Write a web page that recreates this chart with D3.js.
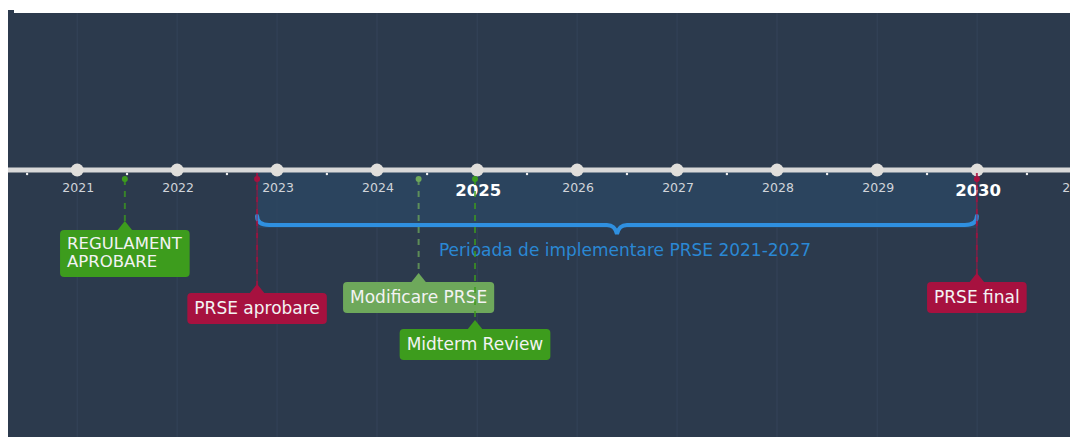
<!DOCTYPE html>
<html>
<head>
<meta charset="utf-8">
<script src="https://cdn.jsdelivr.net/npm/d3@7"></script>
<style>
  html, body { margin: 0; padding: 0; background: #ffffff; }
  svg { display: block; }
  text { font-family: "DejaVu Sans", sans-serif; }
</style>
</head>
<body>
<svg id="chart" width="1070" height="437"></svg>
<script>
// ---------- DATA ----------
const years = [2021, 2022, 2023, 2024, 2025, 2026, 2027, 2028, 2029, 2030, 2031];
const highlightYears = [2025, 2030];
const eventNames = ["REGULAMENT\nAPROBARE", "PRSE aprobare", "Modificare PRSE", "Midterm Review", "PRSE final"];
const eventDates = ["2021-06-24", "2022-10-20", "2024-06-01", "2024-12-24", "2029-12-31"];
const eventKinds = ["green", "crimson", "lightgreen", "green", "crimson"];
const periodLabel = "Perioada de implementare PRSE 2021-2027";
const periodStart = "2022-10-20";
const periodEnd = "2029-12-31";

// ---------- STYLE / LAYOUT ----------
const kindColor = { green: "#3d9c1d", lightgreen: "#6ea85b", crimson: "#a7113f" };
const eventRowTop = [230, 293, 282, 329, 282]; // box tops per event (layout)
const W = 1070, H = 437;
const plot = { left: 8, top: 13 };
const axisY = 170;
const parse = d3.timeParse("%Y-%m-%d");

const svg = d3.select("#chart");
const x = d3.scaleTime()
  .domain([new Date(2020, 0, 1), new Date(2032, 0, 1)])
  .range([-23, 1177]);

// background
svg.append("rect").attr("x", plot.left).attr("y", plot.top)
  .attr("width", W - plot.left).attr("height", H - plot.top).attr("fill", "#2c3a4d");
svg.append("rect").attr("x", 8).attr("y", 10).attr("width", 6).attr("height", 3).attr("fill", "#2c3a4d");

const g = svg.append("g");
svg.append("clipPath").attr("id", "clip").append("rect")
  .attr("x", plot.left).attr("y", plot.top).attr("width", W - plot.left).attr("height", H - plot.top);
g.attr("clip-path", "url(#clip)");

// grid lines at years
g.selectAll("line.grid").data(years).join("line")
  .attr("class", "grid")
  .attr("x1", d => x(new Date(d, 0, 1))).attr("x2", d => x(new Date(d, 0, 1)))
  .attr("y1", plot.top).attr("y2", H)
  .attr("stroke", "#34435a").attr("stroke-width", 1);

// implementation period band
const ps = x(parse(periodStart)), pe = x(parse(periodEnd));
g.append("rect").attr("x", ps).attr("y", axisY + 2).attr("width", pe - ps).attr("height", 56)
  .attr("fill", "#2c4661").attr("opacity", 0.85);

// axis line
g.append("line").attr("x1", plot.left).attr("x2", W).attr("y1", axisY).attr("y2", axisY)
  .attr("stroke", "#d9d9d9").attr("stroke-width", 5);

// minor half-year ticks
const halfYears = [2020].concat(years).map(y => new Date(y, 6, 2));
g.selectAll("circle.minor").data(halfYears).join("circle")
  .attr("class", "minor")
  .attr("cx", d => x(d)).attr("cy", axisY + 4).attr("r", 1.2).attr("fill", "#eeeeee");

// year dots
g.selectAll("circle.year").data(years).join("circle")
  .attr("class", "year")
  .attr("cx", d => x(new Date(d, 0, 1))).attr("cy", axisY).attr("r", 6.5)
  .attr("fill", "#e0dedb");

// year labels
g.selectAll("text.year").data(years).join("text")
  .attr("class", "year")
  .attr("x", d => x(new Date(d, 0, 1)) + 1)
  .attr("y", d => highlightYears.includes(d) ? 196 : 192)
  .attr("text-anchor", "middle")
  .attr("font-size", d => highlightYears.includes(d) ? 16.5 : 12.5)
  .attr("font-weight", d => highlightYears.includes(d) ? "bold" : "normal")
  .attr("fill", d => highlightYears.includes(d) ? "#ffffff" : "#d0d4da")
  .text(d => d);

// brace
const by = 225, bt = 216, mid = (ps + pe) / 2, r = 8;
const bracePath = d3.path();
bracePath.moveTo(ps, bt);
bracePath.quadraticCurveTo(ps, by, ps + r + 4, by);
bracePath.lineTo(mid - 10, by);
bracePath.quadraticCurveTo(mid - 2, by, mid, by + 9);
bracePath.quadraticCurveTo(mid + 2, by, mid + 10, by);
bracePath.lineTo(pe - r - 4, by);
bracePath.quadraticCurveTo(pe, by, pe, bt);
g.append("path").attr("d", bracePath.toString()).attr("fill", "none")
  .attr("stroke", "#2f90e0").attr("stroke-width", 4).attr("stroke-linecap", "round");
g.append("text").attr("x", mid + 8).attr("y", 256).attr("text-anchor", "middle")
  .attr("font-size", 17).attr("fill", "#2a88d4").text(periodLabel);

// events
const events = eventNames.map((n, i) => ({ name: n, date: parse(eventDates[i]), kind: eventKinds[i], top: eventRowTop[i] }));

events.forEach(ev => {
  const ex = x(ev.date);
  const col = kindColor[ev.kind];
  const eg = g.append("g");
  if (ev.kind === "crimson") {
    eg.append("line").attr("x1", ex).attr("x2", ex).attr("y1", axisY + 3).attr("y2", ev.top - 8)
      .attr("stroke", col).attr("stroke-width", 1.2).attr("opacity", 0.75);
    eg.append("line").attr("x1", ex).attr("x2", ex).attr("y1", axisY + 3).attr("y2", ev.top - 8)
      .attr("stroke", col).attr("stroke-width", 2).attr("stroke-dasharray", "5,7").attr("opacity", 0.7);
  } else {
    eg.append("line").attr("x1", ex).attr("x2", ex).attr("y1", axisY + 9).attr("y2", ev.top - 8)
      .attr("stroke", col).attr("stroke-width", 2).attr("stroke-dasharray", "6,6").attr("opacity", 0.75);
  }
  eg.append("circle").attr("cx", ex).attr("cy", axisY + 9).attr("r", 3).attr("fill", col);

  const lines = ev.name.split("\n");
  const fs = lines.length > 1 ? 16.5 : 17, lh = 18;
  const tg = eg.append("g");
  const txt = tg.append("text").attr("font-size", fs).attr("fill", "#f3f3f3");
  lines.forEach((l, i) => txt.append("tspan").attr("x", 0).attr("dy", i === 0 ? 0 : lh).text(l));
  const bb = txt.node().getBBox();
  const padX = 7;
  const bw = bb.width + padX * 2;
  const bh = lines.length > 1 ? 47 : 31;
  const bx = ex - bw / 2;
  // pointer
  eg.insert("path", "g").attr("d", `M${ex - 8},${ev.top + 1} L${ex},${ev.top - 9} L${ex + 8},${ev.top + 1} Z`).attr("fill", col);
  eg.insert("rect", "g").attr("x", bx).attr("y", ev.top).attr("width", bw).attr("height", bh)
    .attr("rx", 4).attr("fill", col);
  const baseline = lines.length > 1 ? ev.top + 19 : ev.top + 21;
  txt.attr("transform", `translate(${bx + padX},${baseline})`);
});
</script>
</body>
</html>
